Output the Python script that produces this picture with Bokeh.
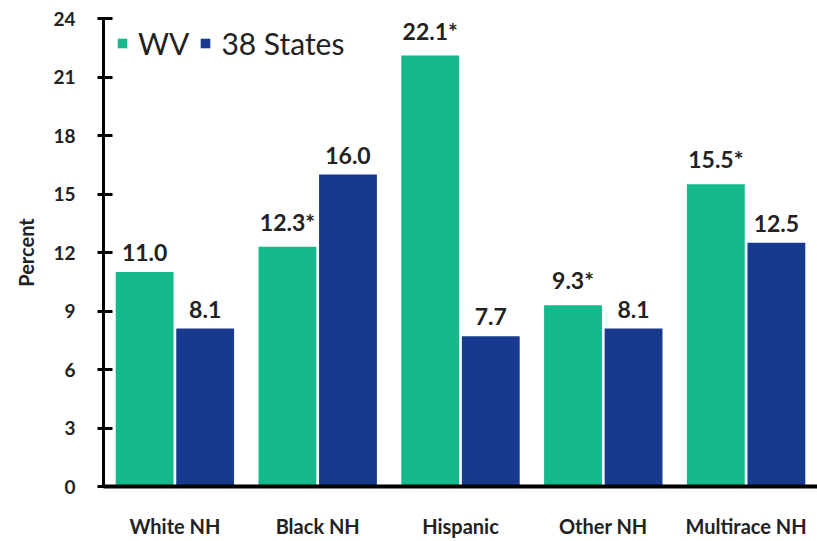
from bokeh.plotting import figure
from bokeh.models import ColumnDataSource, Legend, LegendItem, Range1d, FixedTicker
from bokeh.transform import dodge
from bokeh.core.properties import value
from bokeh.embed import file_html
from bokeh.resources import INLINE

categories = ["White NH", "Black NH", "Hispanic", "Other NH", "Multirace NH"]
wv = [11.0, 12.3, 22.1, 9.3, 15.5]
states38 = [8.1, 16.0, 7.7, 8.1, 12.5]
wv_star = [False, True, True, True, True]
states_star = [False, False, False, False, False]
y_ticks = [0, 3, 6, 9, 12, 15, 18, 21, 24]

GREEN = "#14b98c"
BLUE = "#173a8f"
FONT = "Lato"
TXT = "#222222"

def fmt(v, s):
    return f"{v:.1f}" + ("*" if s else "")

src = ColumnDataSource(dict(
    cat=categories, wv=wv, st=states38,
    wv_lbl=[fmt(v, s) for v, s in zip(wv, wv_star)],
    st_lbl=[fmt(v, s) for v, s in zip(states38, states_star)],
))

p = figure(x_range=categories, y_range=Range1d(0, 24), width=817, height=541,
           output_backend="svg", toolbar_location=None,
           min_border_left=103, min_border_right=0, min_border_top=18, min_border_bottom=55)
p.outline_line_color = None
p.grid.grid_line_color = None
p.x_range.range_padding = 0

off = 0.212
w = 0.405
r1 = p.vbar(x=dodge("cat", -off, range=p.x_range), top="wv", width=w, source=src,
            fill_color=GREEN, line_color=None)
r2 = p.vbar(x=dodge("cat", off, range=p.x_range), top="st", width=w, source=src,
            fill_color=BLUE, line_color=None)

common = dict(text_font=value(FONT), text_font_size="23px", text_font_style="bold",
              text_color=TXT, text_align="center", text_baseline="bottom", y_offset=-11)
p.text(x=dodge("cat", -off, range=p.x_range), y="wv", text="wv_lbl", source=src, **common)
p.text(x=dodge("cat", off, range=p.x_range), y="st", text="st_lbl", source=src, **common)

# axes
p.yaxis.ticker = FixedTicker(ticks=y_ticks)
p.yaxis.axis_line_width = 3
p.yaxis.axis_line_color = "black"
p.yaxis.major_tick_in = 9
p.yaxis.major_tick_out = 6
p.yaxis.major_tick_line_width = 3
p.yaxis.minor_tick_line_color = None
p.yaxis.major_label_text_font = FONT
p.yaxis.major_label_text_font_size = "19px"
p.yaxis.major_label_text_font_style = "bold"
p.yaxis.major_label_text_color = TXT
p.yaxis.major_label_standoff = 22
p.yaxis.axis_label = "Percent"
p.yaxis.axis_label_text_font = FONT
p.yaxis.axis_label_text_font_size = "20px"
p.yaxis.axis_label_text_font_style = "bold"
p.yaxis.axis_label_text_color = TXT
p.yaxis.axis_label_standoff = 12

p.xaxis.axis_line_width = 4
p.xaxis.axis_line_color = "black"
p.xaxis.major_tick_line_color = None
p.xaxis.minor_tick_line_color = None
p.xaxis.major_tick_out = 0
p.xaxis.major_tick_in = 0
p.xaxis.major_label_text_font = FONT
p.xaxis.major_label_text_font_size = "20px"
p.xaxis.major_label_text_font_style = "bold"
p.xaxis.major_label_text_color = TXT
p.xaxis.major_label_standoff = 27

legend = Legend(items=[LegendItem(label="WV", renderers=[r1]),
                       LegendItem(label="38 States", renderers=[r2])],
                orientation="horizontal", location=(13, 425),
                glyph_width=12, glyph_height=12, label_standoff=10, spacing=10,
                padding=0, margin=0, border_line_color=None, background_fill_alpha=0,
                label_text_font=FONT, label_text_font_size="30px", label_text_color=TXT)
p.add_layout(legend, "center")

open("out.html", "w").write(file_html(p, INLINE))
